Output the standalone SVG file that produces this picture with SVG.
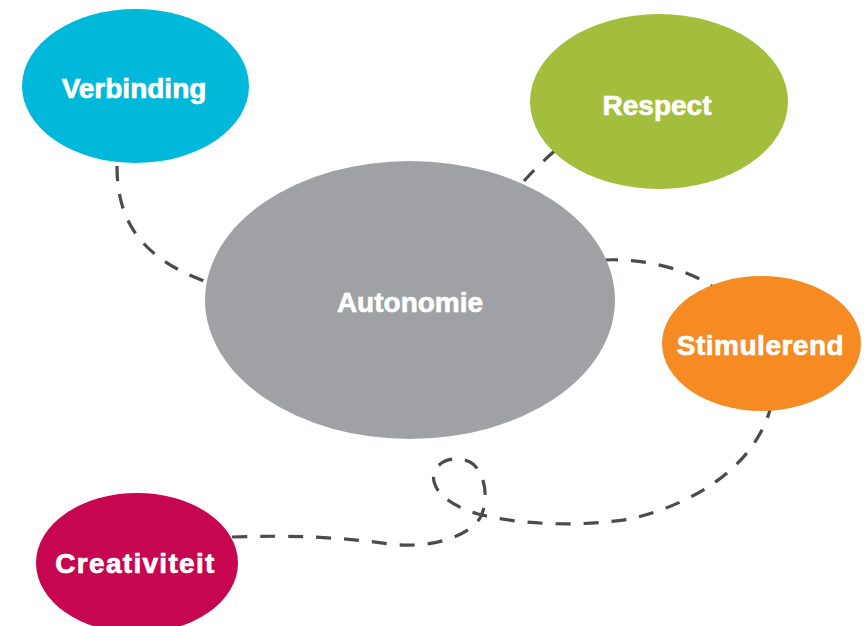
<svg xmlns="http://www.w3.org/2000/svg" width="866" height="626" viewBox="0 0 866 626">
<style>
.conn{fill:none;stroke:#4b4b4d;stroke-width:3.2;stroke-dasharray:15 13;stroke-linecap:butt}
.lbl{font-family:"Liberation Sans",Arial,sans-serif;font-weight:bold;font-size:28px;fill:#ffffff;stroke:#ffffff;stroke-width:0.7;text-anchor:middle}
</style>
<rect width="866" height="626" fill="#ffffff"/>
<g id="connectors">
<path class="conn" d="M117,166 C117,220 140,258 207,282"/>
<path class="conn" d="M524,181 C534,170 545,159 558,148"/>
<path class="conn" d="M603,260 C642,258 684,268 712,286"/>
<path class="conn" d="M232,537 C290,535 340,537 390,544 C430,549 468,537 480,518 C490,500 485,470 470,462 C455,455 438,460 434,473 C430,490 450,506 478,514 C520,525 580,527 630,519 C690,505 752,470 770,410"/>
</g>
<g id="verbinding">
<ellipse cx="135.5" cy="86" rx="113.5" ry="77" fill="#00b9da"/>
<text class="lbl" x="134" y="98">Verbinding</text>
</g>
<g id="respect">
<ellipse cx="659" cy="101.5" rx="129" ry="87.5" fill="#a2be3c"/>
<text class="lbl" x="657" y="115">Respect</text>
</g>
<g id="autonomie">
<ellipse cx="410" cy="300" rx="205" ry="139" fill="#a0a1a5"/>
<text class="lbl" x="410" y="312">Autonomie</text>
</g>
<g id="stimulerend">
<ellipse cx="761.5" cy="343.5" rx="99.5" ry="67.5" fill="#f58b22"/>
<text class="lbl" x="760.5" y="355" letter-spacing="0.5">Stimulerend</text>
</g>
<g id="creativiteit">
<ellipse cx="137" cy="563" rx="101" ry="70" fill="#c6064f"/>
<text class="lbl" x="135.5" y="573" letter-spacing="1.3">Creativiteit</text>
</g>
</svg>
